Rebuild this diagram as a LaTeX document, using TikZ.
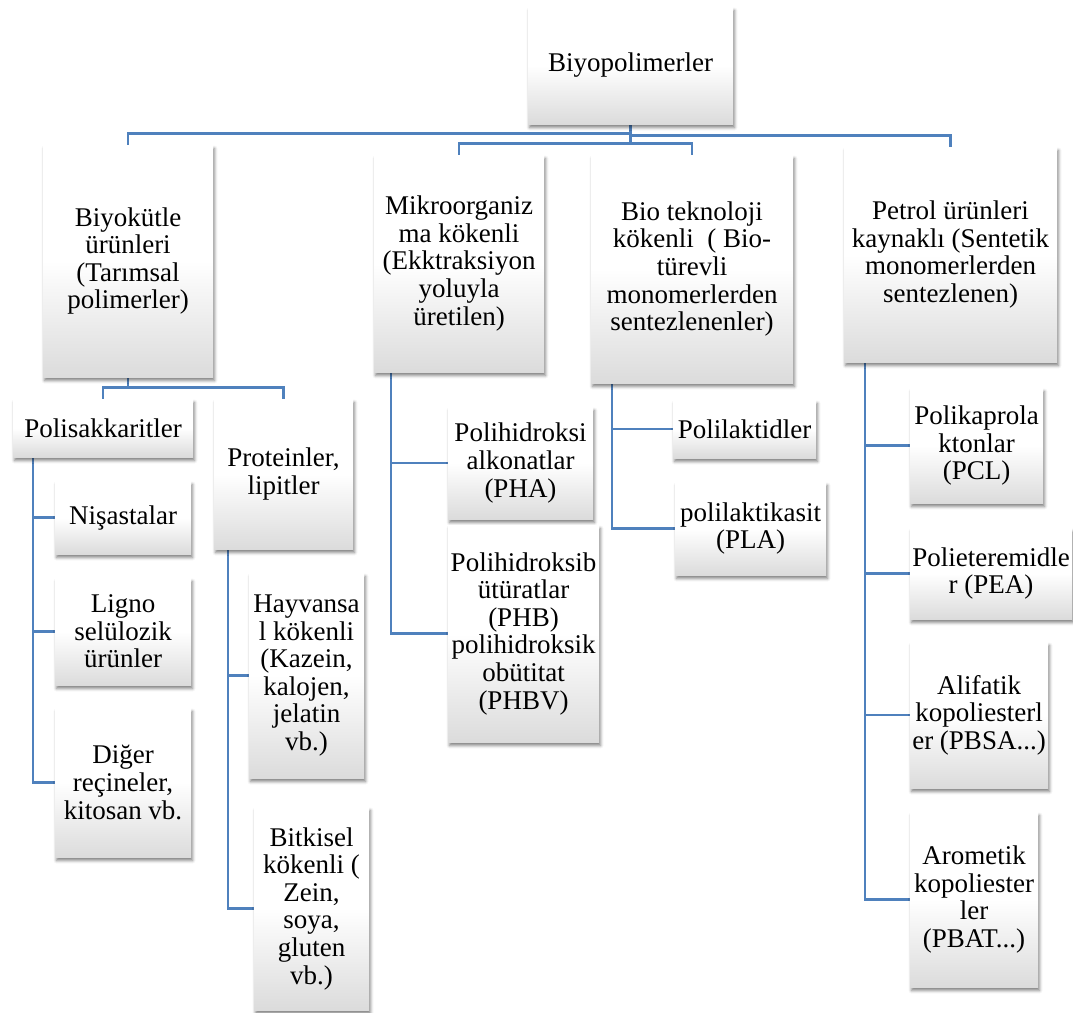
\documentclass[tikz,border=0pt]{standalone}
\usepackage{fontspec}
\setmainfont{Liberation Serif}
\usetikzlibrary{shadows.blur,backgrounds}
\definecolor{linkblue}{HTML}{4F81BD}
\tikzset{
  box/.style={inner sep=0pt, align=center, font=\fontsize{27}{27.6}\selectfont,
    top color=white, bottom color=black!14, middle color=white,
    blur shadow={shadow xshift=1.5pt, shadow yshift=-3.5pt, shadow blur radius=3pt, shadow opacity=50}},
  link/.style={draw=linkblue, line width=2.6pt}
}
\newcommand{\bx}[6]{\node[box, minimum width=#4pt, minimum height=#5pt] (#1) at (#2,#3) {#6};}
\begin{document}
\begin{tikzpicture}[x=1pt,y=-1pt]
\useasboundingbox (0,0) rectangle (1073,1012);
\bx{root}{630.5}{65.5}{205}{117}{Biyopolimerler}
\bx{biyo}{128}{261}{170}{232}{Biyokütle\\ürünleri\\(Tarımsal\\polimerler)}
\bx{mikro}{459}{263.5}{170}{217}{Mikroorganiz\\ma kökenli\\(Ekktraksiyon\\yoluyla\\üretilen)}
\bx{bio}{692}{269}{202}{228}{Bio teknoloji\\kökenli\ \ ( Bio-\\türevli\\monomerlerden\\sentezlenenler)}
\bx{petrol}{950.5}{254.5}{213}{215}{Petrol ürünleri\\kaynaklı (Sentetik\\monomerlerden\\sentezlenen)}
\bx{polis}{103}{428}{180}{58}{Polisakkaritler}
\bx{prot}{283.5}{474}{139}{150}{Proteinler,\\lipitler}
\bx{nisasta}{123}{517.5}{136}{73}{Nişastalar}
\bx{ligno}{123}{631.5}{136}{107}{Ligno\\selülozik\\ürünler}
\bx{diger}{123}{782.5}{136}{149}{Diğer\\reçineler,\\kitosan vb.}
\bx{hayv}{306.5}{675.5}{115}{205}{Hayvansa\\l kökenli\\(Kazein,\\kalojen,\\jelatin\\vb.)}
\bx{bitki}{311.5}{908.5}{115}{203}{Bitkisel\\kökenli (\\Zein,\\soya,\\gluten\\vb.)}
\bx{pha}{520.5}{463}{145}{112}{Polihidroksi\\alkonatlar\\(PHA)}
\bx{phb}{523.5}{633.5}{151}{217}{Polihidroksib\\ütüratlar\\(PHB)\\polihidroksik\\obütitat\\(PHBV)}
\bx{pll}{744.5}{429}{143}{58}{Polilaktidler}
\bx{pla}{750.5}{528.5}{151}{93}{polilaktikasit\\(PLA)}
\bx{pcl}{976.5}{445.5}{133}{115}{Polikaprola\\ktonlar\\(PCL)}
\bx{pea}{991}{573.5}{162}{91}{Polieteremidle\\r (PEA)}
\bx{alif}{979}{715}{138}{146}{Alifatik\\kopoliesterl\\er (PBSA...)}
\bx{arom}{974}{899.5}{128}{175}{Arometik\\kopoliester\\ler\\(PBAT...)}
\begin{scope}[on background layer]
\draw[link] (root.south) -- ([yshift=-9pt]root.south) -| (biyo.north);
\draw[link] (root.south) -- ([yshift=-11pt]root.south) -| (petrol.north);
\draw[link] (root.south) -- ([yshift=-19pt]root.south) -| (mikro.north);
\draw[link] ([yshift=-19pt]root.south) -| (bio.north);
\draw[link] (biyo.south) -- ([yshift=-10pt]biyo.south) -| (polis.north);
\draw[link] ([yshift=-10pt]biyo.south) -| (prot.north);
\draw[link] ([xshift=-70pt]polis.south) |- (nisasta.west);
\draw[link] ([xshift=-70pt]polis.south) |- (ligno.west);
\draw[link] ([xshift=-70pt]polis.south) |- (diger.west);
\draw[link] ([xshift=-55.5pt]prot.south) |- (hayv.west);
\draw[link] ([xshift=-55.5pt]prot.south) |- (bitki.west);
\draw[link] ([xshift=-68pt]mikro.south) |- (pha.west);
\draw[link] ([xshift=-68pt]mikro.south) |- (phb.west);
\draw[link] ([xshift=-80pt]bio.south) |- (pll.west);
\draw[link] ([xshift=-80pt]bio.south) |- (pla.west);
\draw[link] ([xshift=-85.5pt]petrol.south) |- (pcl.west);
\draw[link] ([xshift=-85.5pt]petrol.south) |- (pea.west);
\draw[link] ([xshift=-85.5pt]petrol.south) |- (alif.west);
\draw[link] ([xshift=-85.5pt]petrol.south) |- (arom.west);
\end{scope}
\end{tikzpicture}
\end{document}
